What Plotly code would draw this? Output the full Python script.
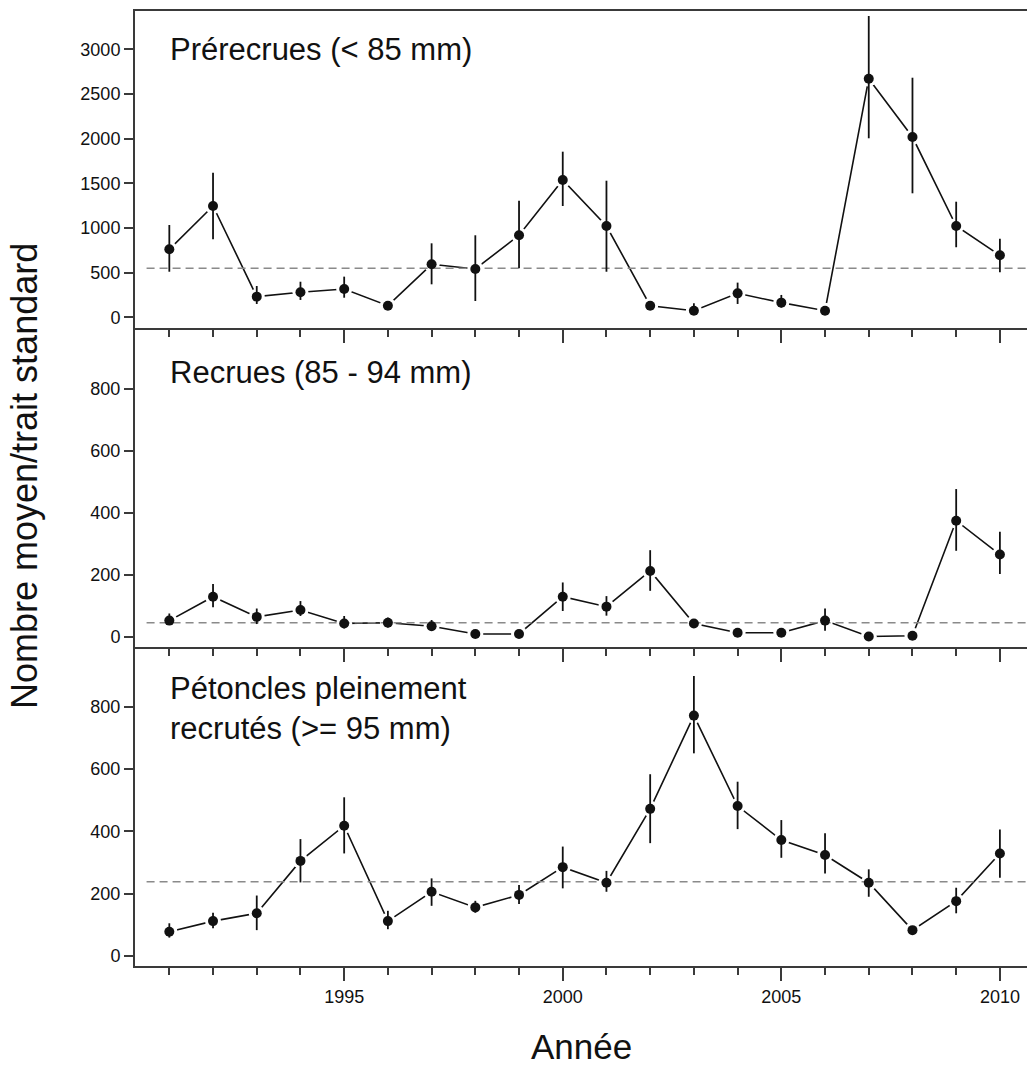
import plotly.graph_objects as go
import numpy as np

years = list(range(1991, 2011))

panel_labels = ["Prérecrues (< 85 mm)", "Recrues (85 - 94 mm)", "Pétoncles pleinement<br>recrutés (>= 95 mm)"]

pre_mean = [761, 1246, 231, 280, 317, 130, 593, 541, 918, 1537, 1022, 130, 74, 268, 164, 74, 2671, 2018, 1022, 694]
pre_low = [510, 873, 149, 194, 219, 100, 369, 182, 548, 1246, 510, 95, 30, 149, 110, 50, 2004, 1388, 784, 504]
pre_high = [1033, 1619, 350, 398, 455, 165, 828, 918, 1305, 1854, 1529, 170, 157, 388, 250, 100, 3373, 2682, 1294, 880]

rec_mean = [52, 129, 64, 86, 43, 45, 34, 9, 9, 129, 97, 212, 43, 13, 13, 52, 1, 3, 374, 265]
rec_low = [38, 95, 41, 67, 27, 30, 19, 4, 4, 83, 68, 148, 33, 7, 7, 19, 0, 0, 277, 202]
rec_high = [75, 170, 91, 115, 67, 62, 54, 14, 14, 175, 131, 279, 55, 19, 19, 91, 4, 7, 476, 338]

full_mean = [78, 112, 137, 305, 418, 112, 206, 156, 196, 285, 235, 472, 771, 481, 372, 324, 235, 83, 176, 329]
full_low = [59, 89, 83, 236, 329, 86, 161, 139, 167, 217, 206, 362, 650, 407, 315, 265, 190, 70, 137, 251]
full_high = [105, 139, 194, 375, 509, 145, 249, 177, 228, 351, 273, 583, 898, 559, 436, 394, 278, 96, 219, 406]

ref_means = [548, 45, 238]

y_ticks = [[0, 500, 1000, 1500, 2000, 2500, 3000], [0, 200, 400, 600, 800], [0, 200, 400, 600, 800]]
x_major_ticks = [1995, 2000, 2005, 2010]
y_ranges = [[-120, 3429], [-33, 995], [-32, 991]]
x_range = [1990.215, 2010.62]
ref_x = [1990.48, 2010.62]

series = [(pre_mean, pre_low, pre_high), (rec_mean, rec_low, rec_high), (full_mean, full_low, full_high)]

FONT = "Liberation Sans, Arial, sans-serif"
AXC = "#3a3a3a"
W, H = 1027, 1067
bounds = [(11, 328), (328, 647), (647, 966)]

fig = go.Figure()
layout = dict(
    width=W, height=H, margin=dict(l=0, r=0, t=0, b=0),
    paper_bgcolor="white", plot_bgcolor="white", showlegend=False,
    font=dict(family=FONT, color="#111"),
)

for i, (m, lo, hi) in enumerate(series):
    k = i + 1
    xa = "x" if k == 1 else f"x{k}"
    ya = "y" if k == 1 else f"y{k}"
    m_arr = np.array(m, dtype=float)
    plus = np.array(hi, dtype=float) - m_arr
    minus = m_arr - np.array(lo, dtype=float)
    fig.add_trace(go.Scatter(x=years, y=m, mode="lines", xaxis=xa, yaxis=ya,
                             line=dict(color="#111", width=1.6), hoverinfo="skip"))
    fig.add_trace(go.Scatter(x=years, y=m, mode="markers", xaxis=xa, yaxis=ya,
                             marker=dict(color="white", size=16), hoverinfo="skip"))
    fig.add_trace(go.Scatter(x=ref_x, y=[ref_means[i]] * 2, mode="lines", xaxis=xa, yaxis=ya,
                             line=dict(color="#8a8a8a", width=1.5, dash="8px,5px"), hoverinfo="skip"))
    fig.add_trace(go.Scatter(x=years, y=m, mode="markers", xaxis=xa, yaxis=ya,
                             marker=dict(color="#111", size=10),
                             error_y=dict(type="data", symmetric=False, array=plus, arrayminus=minus,
                                          color="#111", thickness=1.8, width=0)))

    top, bot = bounds[i]
    dom = [1 - bot / H, 1 - top / H]
    last = (k == 3)
    layout[("xaxis" if k == 1 else f"xaxis{k}")] = dict(
        domain=[135 / W, 1], range=x_range, anchor=ya,
        showline=True, linecolor=AXC, linewidth=2, mirror=(k == 1),
        showgrid=False, zeroline=False,
        tickmode="array", tickvals=x_major_ticks,
        ticks="outside", ticklen=13, tickwidth=1.5, tickcolor=AXC,
        showticklabels=last,
        tickfont=dict(family=FONT, size=18, color="#111"),
        minor=dict(tickmode="array", tickvals=years, ticks="outside", ticklen=7,
                   tickwidth=1.5, tickcolor=AXC, showgrid=False),
    )
    layout[("yaxis" if k == 1 else f"yaxis{k}")] = dict(
        domain=dom, range=y_ranges[i], anchor=xa,
        showline=True, linecolor=AXC, linewidth=2, mirror=False,
        showgrid=False, zeroline=False,
        tickmode="array", tickvals=y_ticks[i],
        ticks="outside", ticklen=9, tickwidth=1.5, tickcolor=AXC,
        tickfont=dict(family=FONT, size=18, color="#111"),
    )

annotations = []
label_centers = [50, 372, 708]
for i, lab in enumerate(panel_labels):
    annotations.append(dict(
        text=lab, xref="paper", yref="paper", x=168 / W, y=1 - label_centers[i] / H,
        xanchor="left", yanchor="middle", align="left", showarrow=False,
        font=dict(family=FONT, size=31, color="#111"),
    ))
annotations.append(dict(
    text="Nombre moyen/trait standard", xref="paper", yref="paper",
    x=24 / W, y=1 - 476 / H, xanchor="center", yanchor="middle", textangle=-90,
    showarrow=False, font=dict(family=FONT, size=36, color="#111"),
))
annotations.append(dict(
    text="Année", xref="paper", yref="paper",
    x=581 / W, y=1 - 1046 / H, xanchor="center", yanchor="middle",
    showarrow=False, font=dict(family=FONT, size=35, color="#111"),
))
layout["annotations"] = annotations

fig.update_layout(**layout)
fig.write_html("out.html")
